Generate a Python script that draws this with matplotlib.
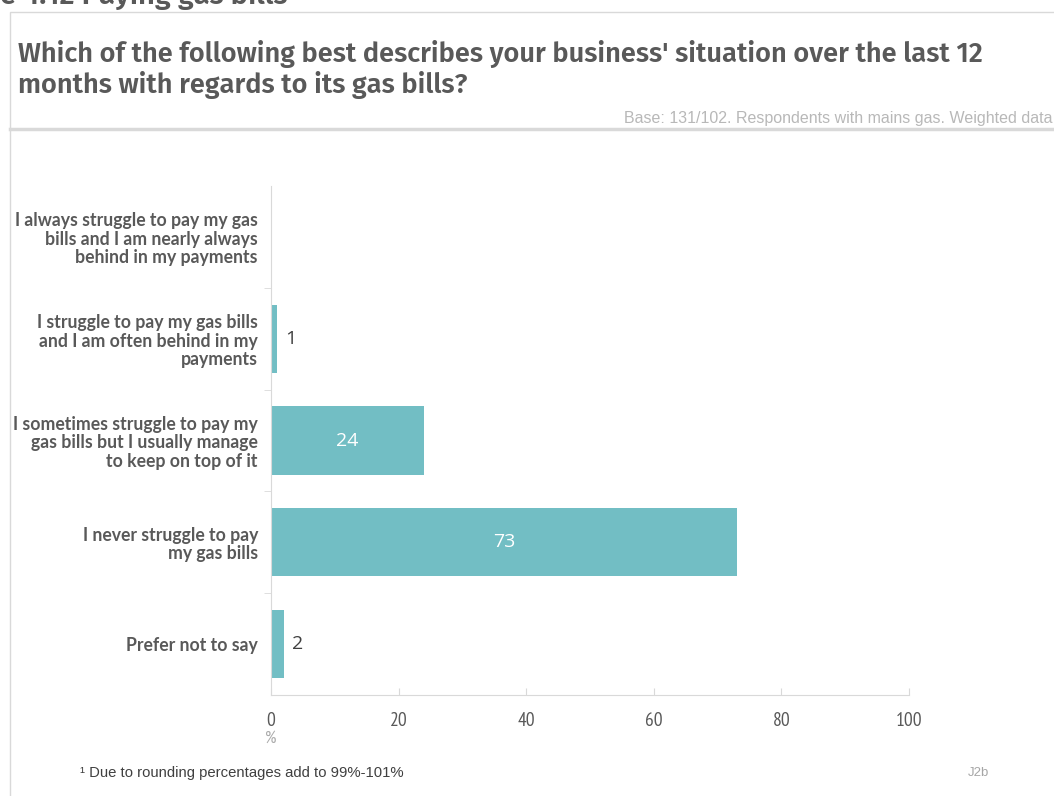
import matplotlib.pyplot as plt
from matplotlib.patches import Rectangle
from matplotlib.lines import Line2D

W, H = 1054, 796

categories = [
    'I always struggle to pay my gas\nbills and I am nearly always\nbehind in my payments',
    'I struggle to pay my gas bills\nand I am often behind in my\npayments',
    'I sometimes struggle to pay my\ngas bills but I usually manage\nto keep on top of it',
    'I never struggle to pay\nmy gas bills',
    'Prefer not to say',
]
values = [0, 1, 24, 73, 2]
x_ticks = [0, 20, 40, 60, 80, 100]

BAR = '#72bec4'
GRID = '#d9d9d9'
TITLE_FONT = ['Fira Sans', 'DejaVu Sans']
NARROW = ['PT Sans Narrow', 'DejaVu Sans']
ARIAL = ['Liberation Sans', 'DejaVu Sans']
LABEL_FONT = ['Lato', 'DejaVu Sans']
NUM_FONT = ['Open Sans', 'DejaVu Sans']


def fx(x):
  return x / W


def fy(y):
  return 1 - y / H


fig = plt.figure(figsize=(W / 100, H / 100), dpi=100)

# outer frame and separator under the question
fig.patches.append(Rectangle((fx(10), fy(H + 5)), fx(W + 20 - 10), fy(12) - fy(H + 5),
                             transform=fig.transFigure, fill=False, edgecolor=GRID, lw=1))
fig.add_artist(Line2D([fx(10), fx(W)], [fy(129), fy(129)], transform=fig.transFigure,
                      color=GRID, lw=2.5))

fig.text(fx(0), fy(4), 'e 4.12 Paying gas bills', fontsize=21, fontweight='semibold',
         color='#595959', family=TITLE_FONT, va='baseline')
fig.text(fx(18), fy(62), "Which of the following best describes your business' situation over the last 12",
         fontsize=19.6, fontweight='semibold', color='#595959', family=TITLE_FONT, va='baseline')
fig.text(fx(18), fy(93), 'months with regards to its gas bills?',
         fontsize=19.6, fontweight='semibold', color='#595959', family=TITLE_FONT, va='baseline')
fig.text(fx(1052), fy(123), 'Base: 131/102. Respondents with mains gas. Weighted data',
         fontsize=11.5, color='#b8b8b8', family=ARIAL, ha='right', va='baseline')

ax = fig.add_axes([fx(271), fy(695), (909 - 271) / W, (695 - 186) / H])
ax.barh(range(len(values)), values, height=0.67, color=BAR)
ax.set_ylim(len(values) - 0.5, -0.5)
ax.set_xlim(0, 100)

for i, v in enumerate(values):
  if v == 0:
    continue
  if v >= 10:
    ax.text(v / 2, i, str(v), ha='center', va='center', color='white', fontsize=14,
            family=NUM_FONT)
  else:
    ax.text(v + 1.3, i, str(v), ha='left', va='center', color='#404040', fontsize=14,
            family=NUM_FONT)

ax.set_yticks(range(len(categories)))
ax.set_yticklabels(categories, fontsize=12.7, fontweight='bold', color='#595959',
                   family=LABEL_FONT, ha='right', multialignment='right', linespacing=1.12)
ax.set_yticks([0.5, 1.5, 2.5, 3.5], minor=True)
ax.tick_params(axis='y', which='major', length=0, pad=9.4)
ax.tick_params(axis='y', which='minor', length=5, color=GRID, direction='out')

ax.set_xticks(x_ticks)
ax.set_xticklabels([str(t) for t in x_ticks], fontsize=14, color='#595959', family=NARROW)
ax.tick_params(axis='x', length=5, color=GRID, direction='in', pad=12.5)

for s in ['top', 'right']:
  ax.spines[s].set_visible(False)
for s in ['left', 'bottom']:
  ax.spines[s].set_color(GRID)

fig.text(fx(265), fy(739), '%', fontsize=13, color='#aaaaaa', family=NARROW, va='center')
fig.text(fx(80), fy(773), '\u00b9 Due to rounding percentages add to 99%-101%', fontsize=10.7,
         color='#404040', family=ARIAL, va='center')
fig.text(fx(968), fy(773), 'J2b', fontsize=9.5, color='#a6a6a6', family=ARIAL, va='center')

fig.savefig('out.png', dpi=100)
